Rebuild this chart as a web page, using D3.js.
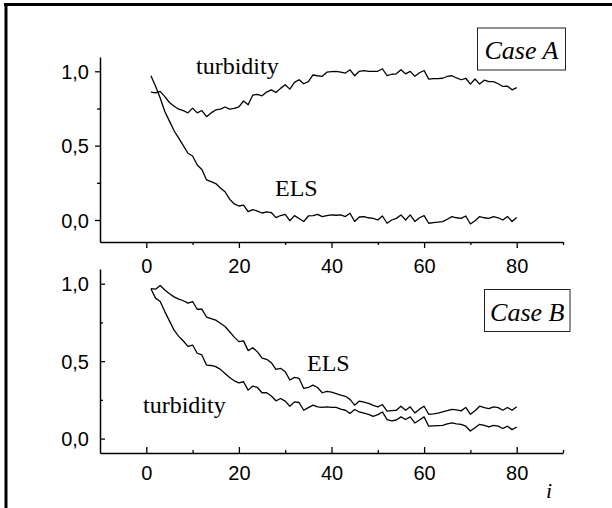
<!DOCTYPE html>
<html><head><meta charset="utf-8">
<script src="https://cdn.jsdelivr.net/npm/d3@7"></script>
<style>
body{margin:0;background:#fff} svg{display:block}
.sans{font-family:"Liberation Sans","Arimo",Arial,Helvetica,sans-serif}
.serif{font-family:"Liberation Serif","Tinos","Times New Roman",Times,"DejaVu Serif",serif}
</style>
</head><body>
<svg id="c" width="612" height="508"></svg>
<script>
// ---- data, i = 1..80 ----
const turbidityA = [0.86,0.855,0.865,0.83,0.79,0.765,0.745,0.735,0.72,0.752,
  0.72,0.736,0.695,0.72,0.74,0.745,0.76,0.745,0.75,0.76,
  0.80,0.775,0.84,0.845,0.835,0.86,0.875,0.857,0.885,0.91,
  0.88,0.925,0.943,0.916,0.93,0.975,0.97,0.966,0.994,0.997,
  0.999,0.995,0.988,1.01,0.97,1.0,1.005,1.0,0.999,1.0,
  1.017,0.97,0.98,0.983,1.01,0.983,0.999,0.966,0.99,1.005,
  0.947,0.95,0.95,0.953,0.965,0.97,0.955,0.943,0.953,0.914,
  0.948,0.914,0.94,0.93,0.93,0.916,0.898,0.9,0.875,0.89];
const elsA = [0.97,0.90,0.82,0.73,0.665,0.60,0.55,0.50,0.449,0.43,
  0.37,0.34,0.27,0.258,0.245,0.215,0.19,0.14,0.108,0.094,
  0.1,0.056,0.07,0.06,0.047,0.055,0.05,0.016,0.03,0.038,
  -0.005,0.029,0.01,-0.01,0.027,0.03,0.038,0.023,0.03,0.034,
  0.032,0.034,0.023,0.045,-0.01,0.02,0.023,0.015,0.011,0.0,
  0.027,-0.022,0.0,0.011,0.034,0.0,0.034,-0.01,0.015,0.029,
  -0.022,-0.018,-0.015,-0.011,0.005,0.023,0.015,0.011,0.027,-0.027,
  -0.005,0.023,0.015,0.011,0.023,0.015,0.0,0.023,-0.01,0.016];
const elsB = [0.968,0.965,0.989,0.96,0.935,0.915,0.90,0.89,0.875,0.885,
  0.835,0.836,0.785,0.775,0.765,0.745,0.724,0.69,0.655,0.626,
  0.631,0.568,0.587,0.56,0.52,0.512,0.49,0.447,0.454,0.432,
  0.378,0.395,0.389,0.324,0.33,0.345,0.33,0.296,0.305,0.30,
  0.29,0.28,0.273,0.253,0.216,0.242,0.235,0.227,0.215,0.205,
  0.22,0.177,0.18,0.183,0.209,0.183,0.205,0.166,0.19,0.209,
  0.157,0.16,0.165,0.172,0.18,0.188,0.185,0.179,0.201,0.157,
  0.18,0.209,0.2,0.194,0.205,0.2,0.183,0.201,0.183,0.205];
const turbidityB = [0.968,0.907,0.885,0.82,0.76,0.70,0.66,0.63,0.595,0.604,
  0.551,0.54,0.475,0.472,0.465,0.447,0.42,0.395,0.373,0.36,
  0.367,0.313,0.339,0.33,0.296,0.296,0.275,0.244,0.259,0.242,
  0.209,0.237,0.233,0.183,0.2,0.216,0.205,0.201,0.205,0.202,
  0.201,0.19,0.183,0.162,0.188,0.172,0.165,0.157,0.144,0.155,
  0.172,0.123,0.114,0.12,0.14,0.123,0.14,0.101,0.12,0.14,
  0.08,0.082,0.084,0.086,0.095,0.101,0.095,0.092,0.08,0.049,
  0.07,0.092,0.085,0.075,0.086,0.08,0.065,0.08,0.058,0.075];
const iIndex = d3.range(1, 81);
const xMajorTicks = [0, 20, 40, 60, 80];
const xMinorTicks = [10, 30, 50, 70, 90];
const yMajorTicks = [0, 0.5, 1.0];
const yMinorTicks = [0.25, 0.75];
const caseLabels = ["Case A", "Case B"];

const svg = d3.select('#c');
const fmt = v => d3.format('.1f')(v).replace('.', ',');

// frame (top and left edges visible)
svg.append('rect').attr('x', 4).attr('y', 3).attr('width', 608).attr('height', 3).attr('fill', '#000');
svg.append('rect').attr('x', 4.5).attr('y', 3).attr('width', 3).attr('height', 505).attr('fill', '#000');

const x = d3.scaleLinear().domain([-10, 90]).range([100, 563]);
const yA = d3.scaleLinear().domain([-0.148, 1.096]).range([242, 57]);
const yB = d3.scaleLinear().domain([-0.093, 1.095]).range([453, 269]);

function styleAxis(g) {
  g.attr('font-family', null).attr('font-size', null).attr('class', 'sans');
  g.select('.domain').attr('stroke', '#000').attr('stroke-width', 1.5);
  g.selectAll('.tick line').attr('stroke', '#000').attr('stroke-width', 1.3);
  g.selectAll('text').style('font-size', '20px').attr('fill', '#000');
}

function panel(y, yPix0, inward, labelBaseline) {
  const s = inward ? -1 : 1;
  const gx = svg.append('g').attr('transform', `translate(0,${yPix0})`)
    .call(d3.axisBottom(x).tickValues(xMajorTicks).tickSize(6 * s).tickSizeOuter(0).tickFormat(d3.format('d')));
  styleAxis(gx);
  gx.selectAll('text').attr('y', labelBaseline).attr('dy', 0);
  const gxm = svg.append('g').attr('transform', `translate(0,${yPix0})`)
    .call(d3.axisBottom(x).tickValues(xMinorTicks).tickSize(3 * s).tickSizeOuter(0).tickFormat(''));
  styleAxis(gxm); gxm.select('.domain').remove();
  const gy = svg.append('g').attr('transform', `translate(100,0)`)
    .call(d3.axisLeft(y).tickValues(yMajorTicks).tickSize(5 * s).tickSizeOuter(0).tickFormat(fmt));
  styleAxis(gy);
  gy.selectAll('text').attr('x', -11).attr('dy', '0.36em');
  const gym = svg.append('g').attr('transform', `translate(100,0)`)
    .call(d3.axisLeft(y).tickValues(yMinorTicks).tickSize(3 * s).tickSizeOuter(0).tickFormat(''));
  styleAxis(gym); gym.select('.domain').remove();
}
panel(yA, 242, false, 31);
panel(yB, 453, true, 27);

function curve(y, data) {
  const line = d3.line().x((d, k) => x(iIndex[k])).y(d => y(d));
  svg.append('path').attr('d', line(data)).attr('fill', 'none')
    .attr('stroke', '#000').attr('stroke-width', 1.3).attr('stroke-linejoin', 'round');
}
curve(yA, turbidityA);
curve(yA, elsA);
curve(yB, elsB);
curve(yB, turbidityB);

function label(t, px, py, size, italic) {
  svg.append('text').attr('class', 'serif').attr('x', px).attr('y', py).text(t)
    .style('font-size', size + 'px')
    .style('font-style', italic ? 'italic' : 'normal').attr('fill', '#000');
}
label('turbidity', 196, 74, 24);
label('ELS', 275, 196, 24);
label('ELS', 307, 371, 24);
label('turbidity', 143, 413, 24);
label('i', 546, 498, 22, true);

function caseBox(t, bx, by, bw, bh) {
  svg.append('rect').attr('x', bx).attr('y', by).attr('width', bw).attr('height', bh)
    .attr('fill', '#fff').attr('stroke', '#222').attr('stroke-width', 1);
  svg.append('text').attr('class', 'serif').attr('x', bx + bw / 2).attr('y', by + 31)
    .attr('text-anchor', 'middle').text(t)
    .style('font-size', '26px').style('font-style', 'italic').attr('fill', '#000');
}
caseBox(caseLabels[0], 477.5, 28, 88, 42);
caseBox(caseLabels[1], 484.5, 289.5, 85.5, 42);
</script>
</body></html>
